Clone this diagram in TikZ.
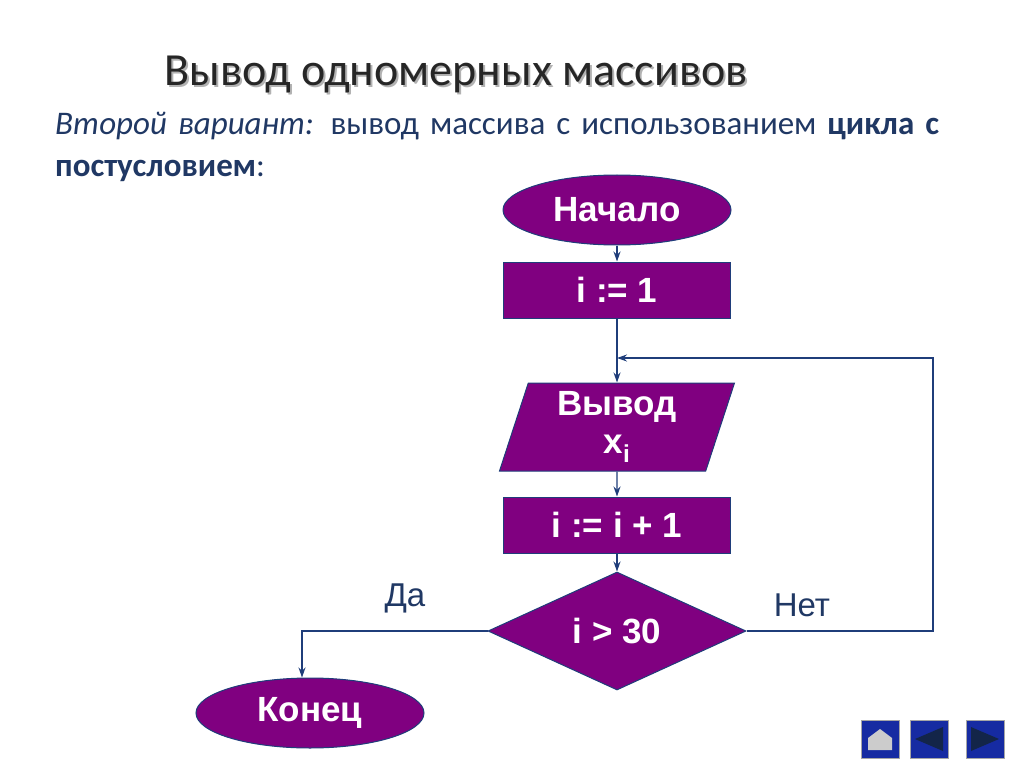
\documentclass[tikz,border=0pt]{standalone}
\usepackage{fontspec}
\setmainfont{Carlito}
\newfontfamily\arialfont{Liberation Sans}
\usetikzlibrary{shapes.geometric,positioning,arrows.meta}
\definecolor{violet}{HTML}{800080}
\definecolor{edge}{HTML}{1F3D7A}
\definecolor{textblue}{HTML}{203864}
\begin{document}
\begin{tikzpicture}[x=1pt,y=-1pt,
  every node/.style={font=\arialfont\bfseries\fontsize{35}{38}\selectfont,text=white},
  blockbox/.style={draw=edge,fill=violet,line width=1pt,rectangle,minimum width=227pt,minimum height=56pt},
  termbox/.style={draw=edge,fill=violet,line width=1pt,ellipse,minimum width=228pt,minimum height=70pt,inner sep=0pt},
  iobox/.style={draw=edge,fill=violet,line width=1pt,trapezium,trapezium left angle=68,trapezium right angle=112,minimum width=235pt,minimum height=88pt,trapezium stretches body,text width=160pt,align=center,inner sep=0pt},
  testbox/.style={draw=edge,fill=violet,line width=1pt,diamond,aspect=2.2,minimum width=258pt,minimum height=118pt,inner sep=0pt},
  flow/.style={draw=edge,line width=1.2pt,-{Stealth[length=10pt,width=7pt]}},
  navbtn/.style={draw=gray!70,fill=edge!70!blue,minimum size=38pt,inner sep=0pt}]
\useasboundingbox (0,0) rectangle (1024,767);
% title
\node (TITLEs) [text=gray!60,font=\fontsize{46}{52}\selectfont] at (458,77) {Вывод одномерных массивов};
\node (TITLE) [text=black!85,font=\fontsize{46}{52}\selectfont] at (456,75) {Вывод одномерных массивов};
\node (SUB) [anchor=north west,text=textblue,font=\fontsize{33}{42}\selectfont,align=left,text width=950pt,inner sep=0pt] at (55,112)
  {\textit{Второй вариант:} вывод массива с использованием \textbf{цикла с}\\ \textbf{постусловием}:};
% blocks
\node (START) [termbox] at (617,210) {Начало};
\node (INIT) [blockbox] at (617,290) {i := 1};
\node (OUT) [iobox] at (617,427) {Вывод\\ x\textsubscript{i}};
\node (INC) [blockbox] at (617,525) {i := i + 1};
\node (TEST) [testbox] at (617,631) {i > 30};
\node (FIN) [termbox] at (310,713) {Конец};
\coordinate (LOOP) at (617,358);
\node (YES) [text=textblue,font=\arialfont\fontsize{33}{36}\selectfont] at (405,598) {Да};
\node (NO) [text=textblue,font=\arialfont\fontsize{33}{36}\selectfont] at (802,605) {Нет};
% connectors
\draw[flow] (START) -- (INIT);
\draw[flow] (INIT) -- (OUT);
\draw[flow] (OUT) -- (INC);
\draw[flow] (INC) -- (TEST);
\draw[flow] (TEST.east) -- (933,631) -- (933,358) -- (LOOP);
\draw[flow] (TEST.west) -- (302,631) -- (FIN.north -| 302,0);
% navigation
\node (HOME) [navbtn] at (880,739) {};
\node (PREV) [navbtn] at (929,739) {};
\node (NEXT) [navbtn] at (985,739) {};
\fill[gray!40] (868,750) -- (868,738) -- (880,729) -- (892,738) -- (892,750) -- cycle;
\fill[edge!60!black] (915,739) -- (943,727) -- (943,751) -- cycle;
\fill[edge!60!black] (999,739) -- (971,727) -- (971,751) -- cycle;
\end{tikzpicture}
\end{document}
